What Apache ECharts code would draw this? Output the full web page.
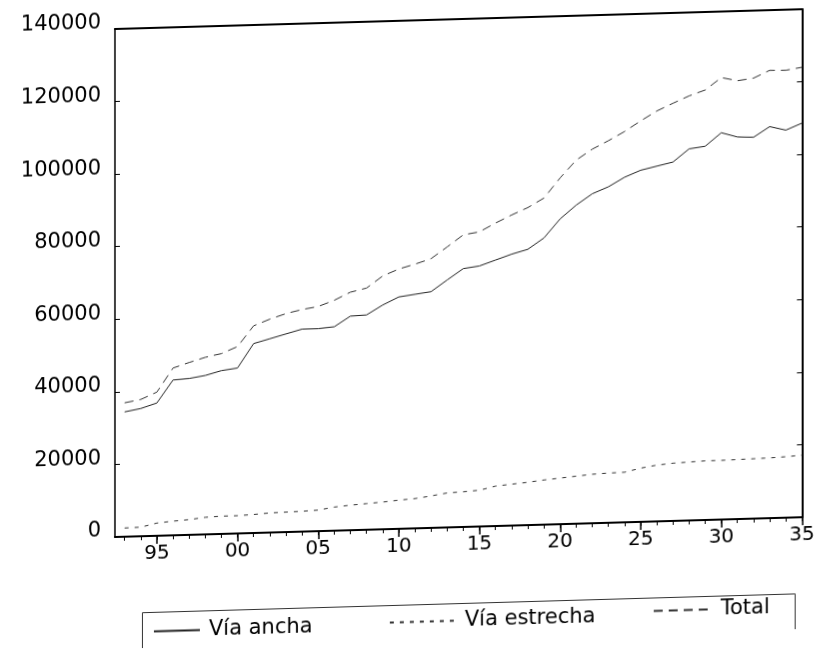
<!DOCTYPE html>
<html><head><meta charset="utf-8">
<script src="https://cdn.jsdelivr.net/npm/echarts@6/dist/echarts.min.js"></script>
<style>
html,body{margin:0;padding:0;background:#fff;overflow:hidden;width:818px;height:649px}
#c{width:818px;height:649px;transform:skewY(-1.65deg);transform-origin:115px 0;}
</style></head><body><div id="c"></div>
<script>
const years = [1993,1994,1995,1996,1997,1998,1999,2000,2001,2002,2003,2004,2005,2006,2007,2008,2009,2010,2011,2012,2013,2014,2015,2016,2017,2018,2019,2020,2021,2022,2023,2024,2025,2026,2027,2028,2029,2030,2031,2032,2033,2034,2035];
const viaAncha = [34400,35200,36600,42800,43100,43800,45000,45600,52200,53400,54600,55800,55800,56200,59000,59200,61800,63900,64500,65100,68200,71200,71800,73300,74800,76000,79000,84100,87800,90800,92600,95100,96900,97900,98900,102400,103000,106600,105300,105100,107900,106800,108600];
const viaEstrecha = [2400,2500,3500,3900,4200,4700,4900,4900,5100,5400,5500,5600,5800,6500,6900,7200,7500,7900,8200,8800,9500,9700,10000,11000,11400,11800,12300,12700,13100,13500,13700,13800,14800,15500,15900,16100,16300,16300,16400,16500,16600,16800,17100];
const total = [36900,37700,39600,46100,47500,48800,49700,51500,57100,58800,60200,61200,61900,63500,65600,66600,69800,71600,72800,74200,77300,80500,81200,83500,85600,87500,90000,95400,100200,103100,105300,107700,110500,113100,115100,117000,118500,121800,120800,121400,123400,123300,124000];
const xLabelYears = [1995,2000,2005,2010,2015,2020,2025,2030,2035];
const seriesNames = ['Vía ancha','Vía estrecha','Total'];

const FONT = 'DejaVu Sans';
const xMin = 1992.4, xMax = 2035;
const chart = echarts.init(document.getElementById('c'), null, {renderer:'canvas'});
const pair = arr => years.map((y,i)=>[y, arr[i]]);
const legendText = {fontSize:21, fontFamily:FONT, color:'#000', padding:[0,0,0,4]};
const legendCommon = {itemHeight:14, textStyle:legendText, itemStyle:{opacity:0, borderWidth:0}};
chart.setOption({
  animation:false,
  backgroundColor:'#fff',
  grid:{left:115, top:29, right:11, bottom:112, containLabel:false},
  xAxis:[
    {type:'value', min:xMin, max:xMax, position:'bottom',
     axisLine:{show:true, onZero:false, lineStyle:{color:'#000', width:2}},
     axisTick:{show:true, inside:false, length:4, customValues:years, lineStyle:{color:'#000', width:1}},
     axisLabel:{show:true, customValues:xLabelYears, formatter:v=>String(v).slice(2), margin:8, fontSize:20, fontFamily:FONT, color:'#000'},
     splitLine:{show:false}},
    {type:'value', min:xMin, max:xMax, position:'bottom',
     axisLine:{show:false, onZero:false},
     axisTick:{show:true, inside:false, length:8, customValues:xLabelYears, lineStyle:{color:'#000', width:1.5}},
     axisLabel:{show:false}, splitLine:{show:false}},
    {type:'value', min:xMin, max:xMax, position:'top',
     axisLine:{show:true, onZero:false, lineStyle:{color:'#000', width:2}},
     axisTick:{show:false}, axisLabel:{show:false}, splitLine:{show:false}}
  ],
  yAxis:[
    {type:'value', min:0, max:140000, interval:20000, position:'left',
     axisLine:{show:true, onZero:false, lineStyle:{color:'#000', width:1.5}},
     axisTick:{show:true, inside:true, length:5, lineStyle:{color:'#000'}},
     axisLabel:{formatter:v=>String(v), fontSize:21, fontFamily:FONT, color:'#000', margin:14, verticalAlign:'bottom', lineHeight:12},
     splitLine:{show:false}},
    {type:'value', min:0, max:140000, interval:20000, position:'right',
     axisLine:{show:true, onZero:false, lineStyle:{color:'#000', width:2}},
     axisTick:{show:true, inside:true, length:5, lineStyle:{color:'#000'}},
     axisLabel:{show:false}, splitLine:{show:false}}
  ],
  legend:[
    Object.assign({data:[seriesNames[0]], left:148, top:617, itemWidth:46}, legendCommon),
    Object.assign({data:[seriesNames[1]], left:384, top:615, itemWidth:66}, legendCommon),
    Object.assign({data:[seriesNames[2]], left:648, top:611, itemWidth:58}, legendCommon)
  ],
  graphic:[
    {type:'rect', left:140, top:611, shape:{width:653, height:37}, style:{fill:'none', stroke:'#333', lineWidth:1}, silent:true}
  ],
  series:[
    {name:seriesNames[0], type:'line', data:pair(viaAncha), symbol:'none', xAxisIndex:0, yAxisIndex:0,
     lineStyle:{color:'#222', width:1, type:'solid'}, itemStyle:{color:'#222'}},
    {name:seriesNames[1], type:'line', data:pair(viaEstrecha), symbol:'none', xAxisIndex:0, yAxisIndex:0,
     lineStyle:{color:'#333', width:1, type:[4,6]}, itemStyle:{color:'#333'}},
    {name:seriesNames[2], type:'line', data:pair(total), symbol:'none', xAxisIndex:0, yAxisIndex:0,
     lineStyle:{color:'#333', width:1, type:[9,6]}, itemStyle:{color:'#333'}}
  ]
});
</script></body></html>
